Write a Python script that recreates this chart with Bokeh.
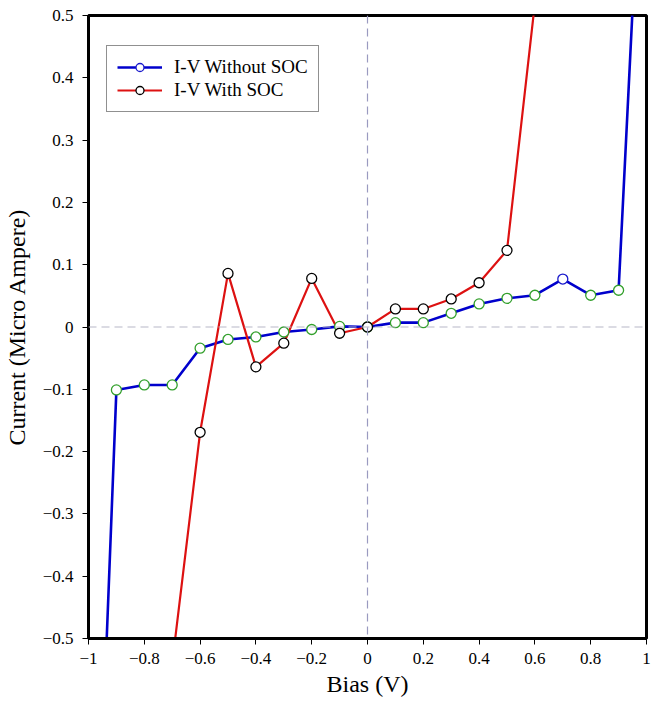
from bokeh.plotting import figure
from bokeh.models import (Span, Legend, LegendItem, FixedTicker, BasicTickFormatter,
                          ColumnDataSource, Range1d, LinearAxis)
from bokeh.embed import file_html
from bokeh.resources import INLINE

# ---- data ----
bias_no_soc = [-1.0, -0.9, -0.8, -0.7, -0.6, -0.5, -0.4, -0.3, -0.2, -0.1, 0.0,
               0.1, 0.2, 0.3, 0.4, 0.5, 0.6, 0.7, 0.8, 0.9, 1.0]
current_no_soc = [-1.25, -0.101, -0.093, -0.093, -0.034, -0.020, -0.016, -0.008, -0.004, 0.001, 0.0,
                  0.007, 0.007, 0.022, 0.037, 0.046, 0.051, 0.077, 0.051, 0.059, 0.96]

bias_soc = [-0.7, -0.6, -0.5, -0.4, -0.3, -0.2, -0.1, 0.0, 0.1, 0.2, 0.3, 0.4, 0.5, 0.6]
current_soc = [-0.54, -0.169, 0.086, -0.064, -0.026, 0.078, -0.010, 0.0,
               0.029, 0.029, 0.045, 0.071, 0.123, 0.52]

x_ticks = [-1.0, -0.8, -0.6, -0.4, -0.2, 0.0, 0.2, 0.4, 0.6, 0.8, 1.0]
y_ticks = [-0.5, -0.4, -0.3, -0.2, -0.1, 0.0, 0.1, 0.2, 0.3, 0.4, 0.5]

label_no_soc = "I-V Without SOC"
label_soc = "I-V With SOC"
x_label = "Bias (V)"
y_label = "Current (Micro Ampere)"

FONT = "Liberation Serif"

p = figure(width=660, height=710, output_backend="svg", toolbar_location=None,
           x_range=Range1d(-1.0, 1.0), y_range=Range1d(-0.5, 0.5),
           x_axis_type=None, y_axis_type=None,
           min_border_left=87, min_border_right=14, min_border_top=15, min_border_bottom=72)

axis_style = dict(
    major_label_text_font=FONT,
    major_label_text_font_size="17px",
    major_label_text_color="black",
    axis_label_text_font=FONT,
    axis_label_text_font_size="24px",
    axis_label_text_font_style="normal",
    axis_label_text_color="black",
    axis_line_color="black",
    axis_line_width=3,
    major_tick_line_color="black",
    major_tick_out=6,
    major_tick_in=0,
    minor_tick_line_color=None,
)

xaxis = LinearAxis(ticker=FixedTicker(ticks=x_ticks), formatter=BasicTickFormatter(precision=1),
                   axis_label=x_label, major_label_standoff=8, axis_label_standoff=4, **axis_style)
yaxis = LinearAxis(ticker=FixedTicker(ticks=y_ticks), formatter=BasicTickFormatter(precision=1),
                   axis_label=y_label, major_label_standoff=9, axis_label_standoff=10, **axis_style)
p.add_layout(xaxis, "below")
p.add_layout(yaxis, "left")

p.outline_line_color = "black"
p.outline_line_width = 3

# the marker at 0.7 V of the first series has a blue edge, the others green
blue_pts = [i for i, b in enumerate(bias_no_soc) if abs(b - 0.7) < 1e-9]
green_pts = [i for i in range(len(bias_no_soc)) if i not in blue_pts]

src_no = ColumnDataSource(dict(x=bias_no_soc, y=current_no_soc))
src_no_g = ColumnDataSource(dict(x=[bias_no_soc[i] for i in green_pts],
                                 y=[current_no_soc[i] for i in green_pts]))
src_no_b = ColumnDataSource(dict(x=[bias_no_soc[i] for i in blue_pts],
                                 y=[current_no_soc[i] for i in blue_pts]))
src_so = ColumnDataSource(dict(x=bias_soc, y=current_soc))

l1 = p.line("x", "y", source=src_no, line_color="#0000cc", line_width=2.6)
l2 = p.line("x", "y", source=src_so, line_color="#dd1111", line_width=2.2)
m1g = p.scatter("x", "y", source=src_no_g, marker="circle", size=10,
                fill_color="white", line_color="#33a02c", line_width=1.3)
m1b = p.scatter("x", "y", source=src_no_b, marker="circle", size=10,
                fill_color="white", line_color="#1a1acc", line_width=1.3)
m2 = p.scatter("x", "y", source=src_so, marker="circle", size=10,
               fill_color="white", line_color="black", line_width=1.3)

# reference lines
p.add_layout(Span(location=0, dimension="width", line_color="#b8b8c8",
                  line_dash="8 5", line_width=1.2))
p.add_layout(Span(location=0, dimension="height", line_color="#9a9ac0",
                  line_dash="8 5", line_width=1.2))

legend = Legend(items=[LegendItem(label=label_no_soc, renderers=[l1, m1b]),
                       LegendItem(label=label_soc, renderers=[l2, m2])],
                location=(18, 526),
                glyph_width=45, glyph_height=20, label_height=20, label_standoff=12,
                spacing=1, padding=10, margin=0,
                border_line_color="#222222", border_line_width=1.6,
                background_fill_color="white", background_fill_alpha=1.0,
                label_text_font=FONT, label_text_font_size="19px", label_text_color="black")
p.add_layout(legend)

open("out.html", "w").write(file_html(p, INLINE))
